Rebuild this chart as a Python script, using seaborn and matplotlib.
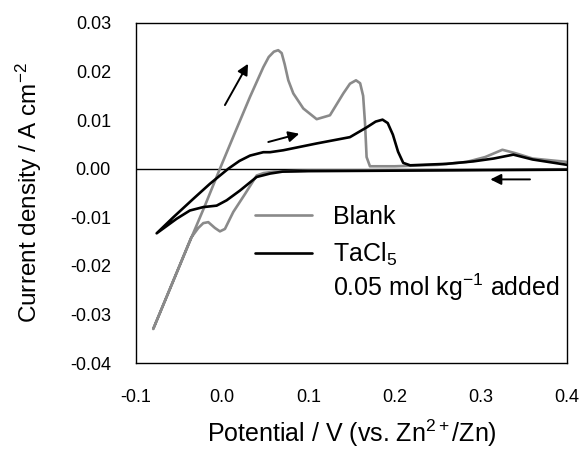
import matplotlib
matplotlib.use("Agg")
import matplotlib.pyplot as plt
import seaborn as sns
import pandas as pd
from matplotlib.ticker import FormatStrFormatter
from matplotlib.lines import Line2D

# ---- data (potential V, current density A cm^-2) ----
blank_x = [0.400, 0.300, 0.200, 0.100, 0.060, 0.048, 0.040, 0.0265, 0.0129, 0.0090,
           0.0032, -0.0026, -0.0084, -0.0161, -0.0219, -0.0277, -0.036, -0.050,
           -0.065, -0.080,
           -0.060, -0.040, -0.020, -0.0026, 0.015, 0.0323, 0.0477, 0.0540, 0.0600,
           0.0650, 0.0690, 0.0725, 0.0767, 0.0825, 0.0941, 0.1096, 0.125, 0.1405,
           0.1482, 0.1552, 0.1600, 0.1635, 0.1657, 0.1675, 0.1714, 0.200, 0.250,
           0.2836, 0.305, 0.325, 0.340, 0.360, 0.400]
blank_y = [-0.0001, -0.0002, -0.0003, -0.0004, -0.0006, -0.0009, -0.0014, -0.0052, -0.0089, -0.0103,
           -0.0124, -0.0129, -0.0122, -0.0110, -0.0112, -0.0122, -0.0142, -0.0202,
           -0.0266, -0.0330,
           -0.0245, -0.0160, -0.0076, 0.0000, 0.0075, 0.0148, 0.0209, 0.0230, 0.0241,
           0.0244, 0.0238, 0.0215, 0.0182, 0.0155, 0.0124, 0.0102, 0.0110, 0.0155,
           0.0175, 0.0182, 0.0176, 0.0150, 0.0093, 0.0024, 0.0005, 0.0005, 0.0008,
           0.0014, 0.0024, 0.0039, 0.0032, 0.0021, 0.0014]

tacl5_x = [0.400, 0.300, 0.200, 0.100, 0.070, 0.0555, 0.040, 0.0206, 0.0052, -0.0064,
           -0.0219, -0.0374, -0.0528, -0.076,
           -0.0567, -0.0335, -0.0142, 0.0071, 0.020, 0.0323, 0.0477, 0.0555, 0.0709,
           0.1096, 0.1482, 0.1675, 0.178, 0.186, 0.192, 0.198, 0.204, 0.210, 0.218,
           0.260, 0.291, 0.315, 0.3377, 0.360, 0.400]
tacl5_y = [-0.0002, -0.0003, -0.0004, -0.0005, -0.0006, -0.0010, -0.0017, -0.0045, -0.0065, -0.0076,
           -0.0079, -0.0086, -0.0103, -0.0133,
           -0.0100, -0.0062, -0.0031, 0.0000, 0.0016, 0.0027, 0.0034, 0.0034, 0.0038,
           0.0052, 0.0065, 0.0085, 0.0097, 0.0101, 0.0094, 0.0070, 0.0035, 0.0012, 0.0007,
           0.0010, 0.0015, 0.0021, 0.0029, 0.0019, 0.0008]

series_names = ["Blank", "TaCl5"]
legend_labels = ["Blank", "TaCl$_5$"]
extra_label = "0.05 mol kg$^{-1}$ added"
colors = {"Blank": "#8a8a8a", "TaCl5": "#000000"}

x_ticks = [-0.1, 0.0, 0.1, 0.2, 0.3, 0.4]
y_ticks = [-0.04, -0.03, -0.02, -0.01, 0.00, 0.01, 0.02, 0.03]

# ---- figure ----
sns.set_style("white")
plt.rcParams["font.family"] = ["Liberation Sans", "DejaVu Sans"]
plt.rcParams["mathtext.fontset"] = "custom"
plt.rcParams["mathtext.rm"] = "Liberation Sans"
plt.rcParams["mathtext.it"] = "Liberation Sans:italic"
plt.rcParams["axes.unicode_minus"] = False
plt.rcParams["text.color"] = "black"
plt.rcParams["axes.labelcolor"] = "black"
plt.rcParams["xtick.color"] = "black"
plt.rcParams["ytick.color"] = "black"

df = pd.concat([
    pd.DataFrame({"x": blank_x, "y": blank_y, "s": "Blank", "o": range(len(blank_x))}),
    pd.DataFrame({"x": tacl5_x, "y": tacl5_y, "s": "TaCl5", "o": range(len(tacl5_x))}),
])

fig = plt.figure(figsize=(5.81, 4.49), dpi=100)
ax = fig.add_axes([0.234, 0.1915, 0.742, 0.7573])

ax.axhline(0, color="black", lw=1.0, zorder=1)
for name in series_names:
    sub = df[df["s"] == name]
    sns.lineplot(data=sub, x="x", y="y", sort=False, estimator=None, ax=ax,
                 color=colors[name], lw=1.9, zorder=3 if name == "TaCl5" else 2)

ax.set_xlim(-0.1, 0.4)
ax.set_ylim(-0.04, 0.03)
ax.set_xticks(x_ticks)
ax.set_yticks(y_ticks)
ax.xaxis.set_major_formatter(FormatStrFormatter("%.1f"))
ax.yaxis.set_major_formatter(FormatStrFormatter("%.2f"))
ax.tick_params(direction="in", length=5, width=1, labelsize=13,
               top=False, right=False, colors="black", labelcolor="black")
ax.tick_params(axis="x", pad=19)
ax.tick_params(axis="y", pad=18)
for sp in ax.spines.values():
    sp.set_color("black")
    sp.set_linewidth(1.0)

ax.set_xlabel("Potential / V (vs. Zn$^{2+}$/Zn)", fontsize=18, labelpad=8, color="black")
ax.set_ylabel("Current density / A cm$^{-2}$", fontsize=17.5, labelpad=19, color="black")

# arrows
arr = dict(arrowstyle="-|>", color="black", lw=1.4, mutation_scale=16,
           shrinkA=0, shrinkB=0)
ax.annotate("", xy=(0.030, 0.0216), xytext=(0.0032, 0.0131), arrowprops=arr)
ax.annotate("", xy=(0.0894, 0.0072), xytext=(0.0535, 0.0055), arrowprops=arr)
ax.annotate("", xy=(0.311, -0.0022), xytext=(0.357, -0.0022), arrowprops=arr)

# legend
handles = [Line2D([], [], color=colors[n], lw=1.9) for n in series_names]
leg = ax.legend(handles, legend_labels, loc="upper left", bbox_to_anchor=(0.276, 0.464),
                frameon=False, fontsize=18, handlelength=2.28, handletextpad=0.84,
                borderpad=0, borderaxespad=0, labelspacing=0.46)
for t in leg.get_texts():
    t.set_color("black")
ax.text(0.457, 0.224, extra_label, transform=ax.transAxes, fontsize=18,
        va="center", ha="left", color="black")

fig.savefig("out.png", dpi=100)
